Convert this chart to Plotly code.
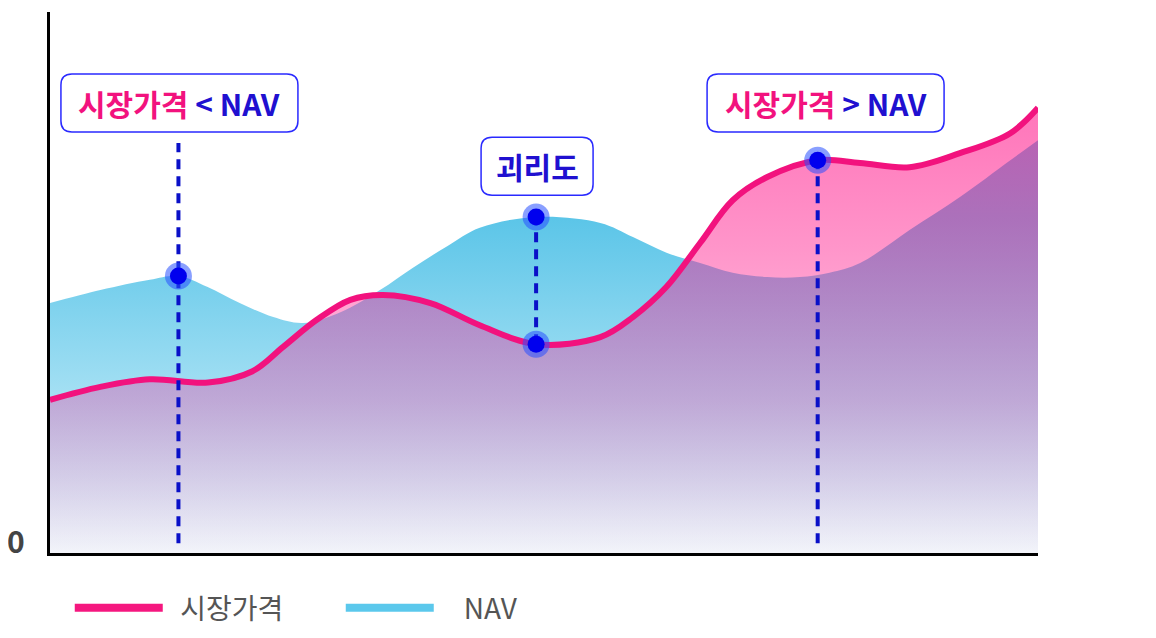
import plotly.graph_objects as go

FONT = "Noto Sans CJK KR"

# 시장가격 (market price) curve
market_x = [0.0, 5.1, 10.1, 16.0, 20.5, 23.6, 27.0, 30.4, 33.7, 38.5, 43.5, 49.2,
            55.7, 59.0, 62.4, 65.8, 69.1, 72.6, 77.7, 82.0, 87.0, 92.1, 97.2, 100.0]
market_y = [28.3, 30.7, 32.1, 31.5, 33.6, 38.1, 43.1, 46.8, 47.7, 46.2, 42.1, 38.6,
            39.9, 43.6, 49.2, 57.3, 65.2, 69.5, 72.6, 72.1, 71.3, 73.9, 77.6, 82.3]

# NAV curve
nav_x = [0.0, 5.1, 10.1, 13.0, 15.9, 19.2, 22.6, 25.6, 29.4, 33.4, 36.7, 40.2, 43.5,
         49.2, 55.7, 59.0, 62.4, 65.8, 69.1, 72.6, 75.9, 78.9, 82.0, 87.0, 92.1,
         97.2, 100.0]
nav_y = [46.2, 48.6, 50.5, 51.2, 49.2, 46.2, 43.6, 42.5, 44.5, 48.6, 52.7, 56.7, 60.1,
         62.1, 61.0, 58.4, 55.5, 53.6, 51.8, 51.0, 51.0, 51.8, 53.6, 59.7, 65.8,
         72.6, 76.3]

# highlighted points
point_x = [13.0, 49.2, 49.2, 77.7]
point_y = [51.2, 62.1, 38.6, 72.6]

# dashed guides
guide_x = [13.0, 49.2, 77.7]
guide_top = [75.8, 62.1, 72.6]
guide_bottom = [1.8, 38.6, 1.8]

# callouts
label_x = [13.1, 49.3, 78.5]
label_y = [83.2, 71.5, 83.2]
label_w = [237, 112, 237]
label_text = [
    '<span style="color:#f2127e">시장가격</span> &lt; NAV',
    '괴리도',
    '<span style="color:#f2127e">시장가격</span> &gt; NAV',
]

PINK = "#f2127e"
BLUE = "#5bc8ec"
GUIDE = "#0a10c8"

fig = go.Figure()

fig.add_trace(go.Scatter(
    x=nav_x, y=nav_y, mode="lines", fill="tozeroy",
    line=dict(width=0, shape="spline", smoothing=1.0, color=BLUE),
    fillgradient=dict(type="vertical", start=0, stop=100,
                      colorscale=[[0, "#f3f4fa"], [0.3, "#a2dff3"],
                                  [0.62, "#5bc5e8"], [1, "#56c3e8"]]),
    showlegend=False, hoverinfo="skip",
))

fig.add_trace(go.Scatter(
    x=market_x, y=market_y, mode="lines", fill="tozeroy",
    line=dict(width=6, shape="spline", smoothing=1.0, color=PINK),
    fillgradient=dict(type="vertical", start=0, stop=100,
                      colorscale=[[0, "rgba(255,26,140,0.0)"],
                                  [0.28, "rgba(255,26,140,0.28)"],
                                  [0.56, "rgba(255,26,140,0.46)"],
                                  [0.78, "rgba(255,26,140,0.58)"],
                                  [1, "rgba(255,26,140,0.64)"]]),
    showlegend=False, hoverinfo="skip",
))

for gx, gt, gb in zip(guide_x, guide_top, guide_bottom):
    fig.add_trace(go.Scatter(
        x=[gx, gx], y=[gb, gt], mode="lines",
        line=dict(width=4, color=GUIDE, dash="10px,7px"),
        showlegend=False, hoverinfo="skip",
    ))

fig.add_trace(go.Scatter(
    x=point_x, y=point_y, mode="markers",
    marker=dict(size=27, color="rgba(40,80,255,0.55)", line=dict(width=0)),
    showlegend=False, hoverinfo="skip",
))
fig.add_trace(go.Scatter(
    x=point_x, y=point_y, mode="markers",
    marker=dict(size=17, color="#0000ee", line=dict(width=0)),
    showlegend=False, hoverinfo="skip",
))

# legend entries
fig.add_trace(go.Scatter(x=[None], y=[None], mode="lines", name="\u00a0\u00a0시장가격",
                         line=dict(width=8, color="#f5177f")))
fig.add_trace(go.Scatter(x=[None], y=[None], mode="lines", name="\u00a0\u00a0\u00a0\u00a0NAV",
                         line=dict(width=8, color=BLUE)))


def rounded_box(w, h, r):
    x0, x1, y0, y1 = -w / 2, w / 2, -h / 2, h / 2
    return (f"M{x0 + r},{y0} L{x1 - r},{y0} Q{x1},{y0} {x1},{y0 + r} "
            f"L{x1},{y1 - r} Q{x1},{y1} {x1 - r},{y1} L{x0 + r},{y1} "
            f"Q{x0},{y1} {x0},{y1 - r} L{x0},{y0 + r} Q{x0},{y0} {x0 + r},{y0} Z")


for lx, ly, lw, lt in zip(label_x, label_y, label_w, label_text):
    fig.add_shape(type="path", xref="x", yref="y",
                  xsizemode="pixel", ysizemode="pixel", xanchor=lx, yanchor=ly,
                  path=rounded_box(lw, 58, 11),
                  fillcolor="white", line=dict(color="#2a2aff", width=1.5))
    fig.add_annotation(x=lx, y=ly, xref="x", yref="y", text=lt, showarrow=False,
                       font=dict(family=FONT, size=30, color="#2010d0", weight=600))

fig.add_annotation(x=0, y=2.4, xref="paper", yref="y", text="0",
                   showarrow=False, xanchor="right", yanchor="middle",
                   xshift=-23, font=dict(family=FONT, size=30, color="#444444", weight=600))

# the page adds an 8px body margin, so the figure is sized to sit inside the window
fig.update_layout(
    width=1148, height=630,
    margin=dict(l=42, r=118, t=4, b=85),
    paper_bgcolor="white", plot_bgcolor="white",
    xaxis=dict(range=[0, 100], showgrid=False, zeroline=False, showticklabels=False,
               showline=True, linecolor="black", linewidth=3, ticks=""),
    yaxis=dict(range=[0, 100], showgrid=False, zeroline=False, showticklabels=False,
               showline=True, linecolor="black", linewidth=3, ticks=""),
    legend=dict(orientation="h", x=0.02, xanchor="left", y=-0.1017, yanchor="middle",
                font=dict(family=FONT, size=28, color="#555555"),
                itemwidth=88, entrywidth=168, entrywidthmode="pixels"),
    font=dict(family=FONT),
)

fig.write_html("out.html", config={"displayModeBar": False})
